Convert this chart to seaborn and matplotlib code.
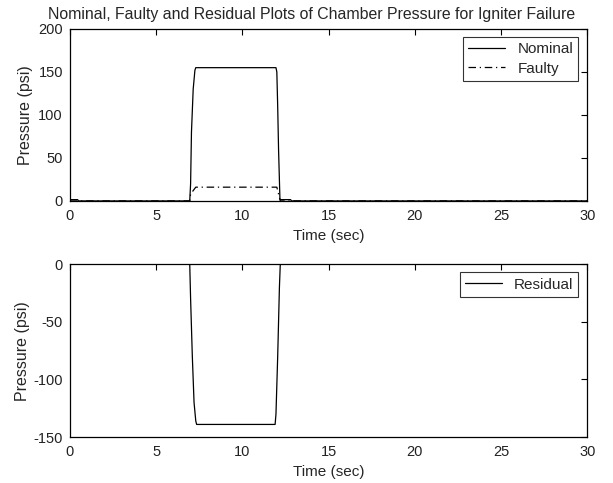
import matplotlib
matplotlib.use("Agg")
import matplotlib.pyplot as plt
import seaborn as sns
import pandas as pd

# chamber pressure traces
nominal_t = [0, 0.45, 0.5, 6.95, 7.0, 7.05, 7.15, 7.25, 7.3, 11.95, 12.0, 12.05, 12.1, 12.18, 12.22, 12.8, 12.85, 30]
nominal_p = [1.5, 1.5, 0, 0, 20, 80, 130, 152, 155, 155, 150, 110, 60, 2, 1.5, 1.5, 0, 0]

faulty_t = [0, 6.95, 7.0, 7.3, 12.0, 12.2, 30]
faulty_p = [0, 0, 8, 16, 16, 0, 0]

residual_t = [0, 6.95, 7.0, 7.1, 7.2, 7.3, 7.35, 11.9, 11.95, 12.05, 12.15, 12.2, 30]
residual_p = [0, 0, -30, -80, -120, -136, -139, -139, -130, -80, -20, 0, 0]

sns.set_style("white")
plt.rcParams['font.family'] = ['Liberation Sans', 'DejaVu Sans']
plt.rcParams['axes.unicode_minus'] = False

fig = plt.figure(figsize=(6.13, 4.83), dpi=100)
ax1 = fig.add_axes([0.114, 0.584, 0.844, 0.356])
ax2 = fig.add_axes([0.114, 0.095, 0.844, 0.358])

df_top = pd.concat([
    pd.DataFrame({"t": nominal_t, "p": nominal_p, "s": "Nominal"}),
    pd.DataFrame({"t": faulty_t, "p": faulty_p, "s": "Faulty"}),
])
sns.lineplot(data=df_top, x="t", y="p", hue="s", style="s",
             palette=["black", "black"], dashes=[(None, None), (6, 3, 1, 3)],
             linewidth=0.9, ax=ax1, sort=False, estimator=None)

df_bot = pd.DataFrame({"t": residual_t, "p": residual_p, "s": "Residual"})
sns.lineplot(data=df_bot, x="t", y="p", color="black", linewidth=0.9,
             ax=ax2, sort=False, estimator=None, label="Residual")

ax1.set_xlim(0, 30)
ax1.set_ylim(0, 200)
ax1.set_yticks([0, 50, 100, 150, 200])
ax2.set_xlim(0, 30)
ax2.set_ylim(-150, 0)
ax2.set_yticks([-150, -100, -50, 0])

for ax in (ax1, ax2):
    ax.set_xticks([0, 5, 10, 15, 20, 25, 30])
    ax.set_xlabel("Time (sec)", labelpad=4, fontsize=11)
    ax.set_ylabel("Pressure (psi)", fontsize=11.5)
    ax.tick_params(direction="in", length=4, width=0.8, top=True, right=True,
                   labelsize=10.5, colors="black", labelcolor="#222222")
    ax.tick_params(axis="x", pad=6)
    ax.tick_params(axis="y", pad=5)
    for sp in ax.spines.values():
        sp.set_visible(True)
        sp.set_color("black")
        sp.set_linewidth(0.9)

ax1.yaxis.set_label_coords(-0.071, 0.5)
ax2.yaxis.set_label_coords(-0.077, 0.5)

leg1 = ax1.legend(loc="upper right", frameon=True, fancybox=False,
                  edgecolor="black", handlelength=2.4, borderpad=0.35,
                  labelspacing=0.35, fontsize=11, borderaxespad=0,
                  bbox_to_anchor=(0.983, 0.953))
leg1.get_frame().set_linewidth(0.8)
leg2 = ax2.legend(loc="upper right", frameon=True, fancybox=False,
                  edgecolor="black", handlelength=2.4, borderpad=0.35,
                  fontsize=11, borderaxespad=0,
                  bbox_to_anchor=(0.983, 0.953))
leg2.get_frame().set_linewidth(0.8)

ax1.set_title("Nominal, Faulty and Residual Plots of Chamber Pressure for Igniter Failure",
              fontsize=11.4, pad=7, x=0.468)

fig.savefig("out.png", dpi=100)
